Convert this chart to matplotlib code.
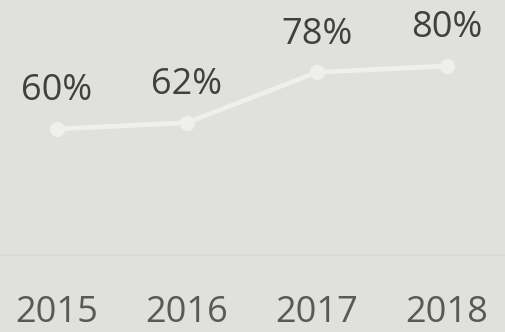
import matplotlib.pyplot as plt

years = ['2015', '2016', '2017', '2018']
share = [60, 62, 78, 80]
labels = ['60%', '62%', '78%', '80%']

bg = '#e0e1dc'
plt.rcParams['font.family'] = ['Open Sans', 'DejaVu Sans']

fig = plt.figure(figsize=(5.06, 3.32), dpi=100, facecolor=bg)
ax = fig.add_axes([0, 0.232, 1, 0.759], facecolor=bg)

x = range(len(years))
ax.plot(x, share, color='#efefeb', linewidth=3.4, marker='o', markersize=11,
        markeredgewidth=0, solid_capstyle='round')

for xi, v, lab in zip(x, share, labels):
    ax.annotate(lab, (xi, v), xytext=(0, 27), textcoords='offset points',
                ha='center', va='center', fontsize=26, color='#404040')

ax.set_xlim(-0.438, 3.454)
ax.set_ylim(20, 100)
ax.set_yticks([])
ax.set_xticks(list(x))
ax.set_xticklabels(years, fontsize=26, color='#595959')
ax.tick_params(axis='x', length=0, pad=29)

for side in ['top', 'left', 'right']:
    ax.spines[side].set_visible(False)
ax.spines['bottom'].set_color('#d7d8d3')
ax.spines['bottom'].set_linewidth(1.2)

fig.savefig('out.png', dpi=100, facecolor=bg)
